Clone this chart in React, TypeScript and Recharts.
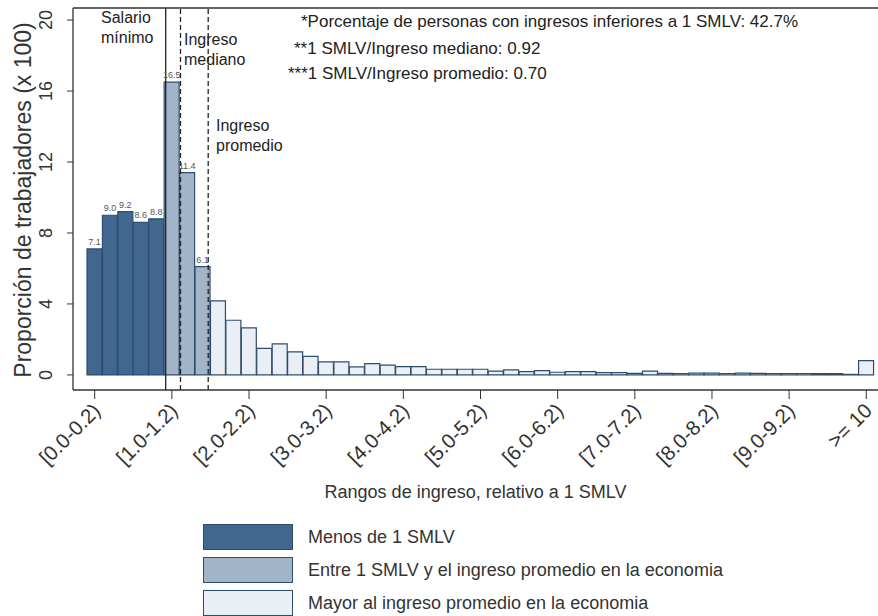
import {
  BarChart,
  Bar,
  XAxis,
  YAxis,
  ReferenceLine,
  LabelList,
  Legend,
} from "recharts";

// income ranges, relative to 1 SMLV
const CATEGORIES = [
  "[0.0-0.2)", "[0.2-0.4)", "[0.4-0.6)", "[0.6-0.8)", "[0.8-1.0)",
  "[1.0-1.2)", "[1.2-1.4)", "[1.4-1.6)", "[1.6-1.8)", "[1.8-2.0)",
  "[2.0-2.2)", "[2.2-2.4)", "[2.4-2.6)", "[2.6-2.8)", "[2.8-3.0)",
  "[3.0-3.2)", "[3.2-3.4)", "[3.4-3.6)", "[3.6-3.8)", "[3.8-4.0)",
  "[4.0-4.2)", "[4.2-4.4)", "[4.4-4.6)", "[4.6-4.8)", "[4.8-5.0)",
  "[5.0-5.2)", "[5.2-5.4)", "[5.4-5.6)", "[5.6-5.8)", "[5.8-6.0)",
  "[6.0-6.2)", "[6.2-6.4)", "[6.4-6.6)", "[6.6-6.8)", "[6.8-7.0)",
  "[7.0-7.2)", "[7.2-7.4)", "[7.4-7.6)", "[7.6-7.8)", "[7.8-8.0)",
  "[8.0-8.2)", "[8.2-8.4)", "[8.4-8.6)", "[8.6-8.8)", "[8.8-9.0)",
  "[9.0-9.2)", "[9.2-9.4)", "[9.4-9.6)", "[9.6-9.8)", "[9.8-10.0)",
  ">= 10",
];

// share of workers (x 100)
const SHARES = [
  7.1, 9.0, 9.2, 8.6, 8.8, 16.5, 11.4, 6.1, 4.17, 3.08,
  2.65, 1.5, 1.75, 1.3, 1.05, 0.73, 0.73, 0.45, 0.64, 0.55,
  0.47, 0.47, 0.32, 0.32, 0.32, 0.32, 0.21, 0.28, 0.19, 0.24,
  0.15, 0.19, 0.19, 0.13, 0.13, 0.09, 0.21, 0.09, 0.08, 0.1,
  0.1, 0.08, 0.1, 0.09, 0.08, 0.08, 0.08, 0.07, 0.07, 0.03,
  0.8,
];

// group of each bar
const GROUPS = [
  "menos", "menos", "menos", "menos", "menos",
  "entre", "entre", "entre",
  ...Array(43).fill("mayor"),
];

const Y_TICKS = [0, 4, 8, 12, 16, 20];

// reference lines, in bar units (left edge of first bar = 0)
const SALARIO_MINIMO = 5.0;
const INGRESO_MEDIANO = 5.94;
const INGRESO_PROMEDIO = 7.7;

const SERIES = [
  { key: "menos", label: "Menos de 1 SMLV", color: "#41668f" },
  { key: "entre", label: "Entre 1 SMLV y el ingreso promedio en la economia", color: "#a1b4c8" },
  { key: "mayor", label: "Mayor al ingreso promedio en la economia", color: "#e9eff5" },
];

const STROKE = "#2e4d6e";
const FONT = "'Liberation Sans', Arial, sans-serif";
const Y_MIN = -0.85;
const Y_MAX = 20.68;

const data = CATEGORIES.map((cat, i) => ({
  cat,
  menos: GROUPS[i] === "menos" ? SHARES[i] : null,
  entre: GROUPS[i] === "entre" ? SHARES[i] : null,
  mayor: GROUPS[i] === "mayor" ? SHARES[i] : null,
}));

const valueLabel = (props: any) => {
  const { x, y, width, value } = props;
  if (value == null) return null;
  return (
    <text x={x + width / 2} y={y - 4} textAnchor="middle" fontSize={9} fill="#555" fontFamily={FONT}>
      {Number(value).toFixed(1)}
    </text>
  );
};

const XTick = (props: any) => {
  const { x, y, payload } = props;
  const tx = x + 7;
  const ty = y + 11;
  return (
    <text x={tx} y={ty} transform={`rotate(-45, ${tx}, ${ty})`} textAnchor="end" fontSize={20.5} fill="#333" fontFamily={FONT}>
      {payload.value}
    </text>
  );
};

const YTick = (props: any) => {
  const { y, payload } = props;
  const tx = 46;
  return (
    <text x={tx} y={y} transform={`rotate(-90, ${tx}, ${y})`} textAnchor="middle" dominantBaseline="central" fontSize={18} fill="#333" fontFamily={FONT}>
      {payload.value}
    </text>
  );
};

const LegendBox = () => (
  <div style={{ fontFamily: FONT }}>
    {SERIES.map((s) => (
      <div key={s.key} style={{ display: "flex", alignItems: "center", height: 26, marginBottom: 7 }}>
        <div style={{ width: 88, height: 24, background: s.color, border: `1.2px solid ${STROKE}`, marginRight: 15 }} />
        <span style={{ fontSize: 18, color: "#333" }}>{s.label}</span>
      </div>
    ))}
  </div>
);

export default function App() {
  return (
    <div style={{ position: "absolute", left: 0, top: 0, width: 878, height: 616, background: "#fff" }}>
      <BarChart
        width={878}
        height={616}
        data={data}
        margin={{ top: 8, right: 0, bottom: 0, left: 0 }}
        barCategoryGap={0}
        barGap={0}
      >
        <XAxis
          dataKey="cat"
          height={226}
          interval={4}
          padding={{ left: 14, right: 4 }}
          tick={<XTick />}
          tickSize={9}
          tickLine={{ stroke: "#333" }}
          axisLine={{ stroke: "#333", strokeWidth: 1.3 }}
          label={{ value: "Rangos de ingreso, relativo a 1 SMLV", position: "insideTop", offset: 95, fontSize: 18, fill: "#333", fontFamily: FONT }}
        />
        <XAxis
          xAxisId="num"
          type="number"
          domain={[0, 51]}
          padding={{ left: 14, right: 4 }}
          allowDataOverflow
          hide
        />
        <YAxis
          width={73}
          domain={[Y_MIN, Y_MAX]}
          ticks={Y_TICKS}
          allowDataOverflow
          tick={<YTick />}
          tickSize={6}
          tickLine={{ stroke: "#333" }}
          axisLine={{ stroke: "#333", strokeWidth: 1.3 }}
          label={{
            value: "Proporción de trabajadores (x 100)",
            content: () => (
              <text x={23} y={200} transform="rotate(-90, 23, 200)" textAnchor="middle" dominantBaseline="central" fontSize={23} fill="#333" fontFamily={FONT}>
                Proporción de trabajadores (x 100)
              </text>
            ),
          }}
        />
        {SERIES.map((s) => (
          <Bar
            key={s.key}
            dataKey={s.key}
            name={s.label}
            stackId="hist"
            fill={s.color}
            stroke={STROKE}
            strokeWidth={1.2}
            isAnimationActive={false}
          >
            {s.key !== "mayor" && <LabelList dataKey={s.key} content={valueLabel} />}
          </Bar>
        ))}
        <ReferenceLine y={Y_MAX} stroke="#333" strokeWidth={1.3} />
        <ReferenceLine xAxisId="num" x={SALARIO_MINIMO} stroke="#222" strokeWidth={1.3} />
        <ReferenceLine xAxisId="num" x={INGRESO_MEDIANO} stroke="#222" strokeWidth={1.3} strokeDasharray="5 3" />
        <ReferenceLine xAxisId="num" x={INGRESO_PROMEDIO} stroke="#222" strokeWidth={1.3} strokeDasharray="5 3" />
        <Legend
          layout="vertical"
          verticalAlign="middle"
          align="center"
          content={<LegendBox />}
          wrapperStyle={{ left: 203, top: 524, width: 600, height: 92 }}
        />
        <g fontFamily={FONT} fontSize={16} fill="#222">
          <text x={101} y={23}>
            <tspan x={101}>Salario</tspan>
            <tspan x={101} dy={19.5}>mínimo</tspan>
          </text>
          <text x={184} y={45}>
            <tspan x={184}>Ingreso</tspan>
            <tspan x={184} dy={19.5}>mediano</tspan>
          </text>
          <text x={216} y={131}>
            <tspan x={216}>Ingreso</tspan>
            <tspan x={216} dy={19.5}>promedio</tspan>
          </text>
        </g>
        <g fontFamily={FONT} fontSize={17} fill="#222">
          <text x={301} y={27}>*Porcentaje de personas con ingresos inferiores a 1 SMLV: 42.7%</text>
          <text x={294} y={54}>**1 SMLV/Ingreso mediano: 0.92</text>
          <text x={288} y={79}>***1 SMLV/Ingreso promedio: 0.70</text>
        </g>
      </BarChart>
    </div>
  );
}
